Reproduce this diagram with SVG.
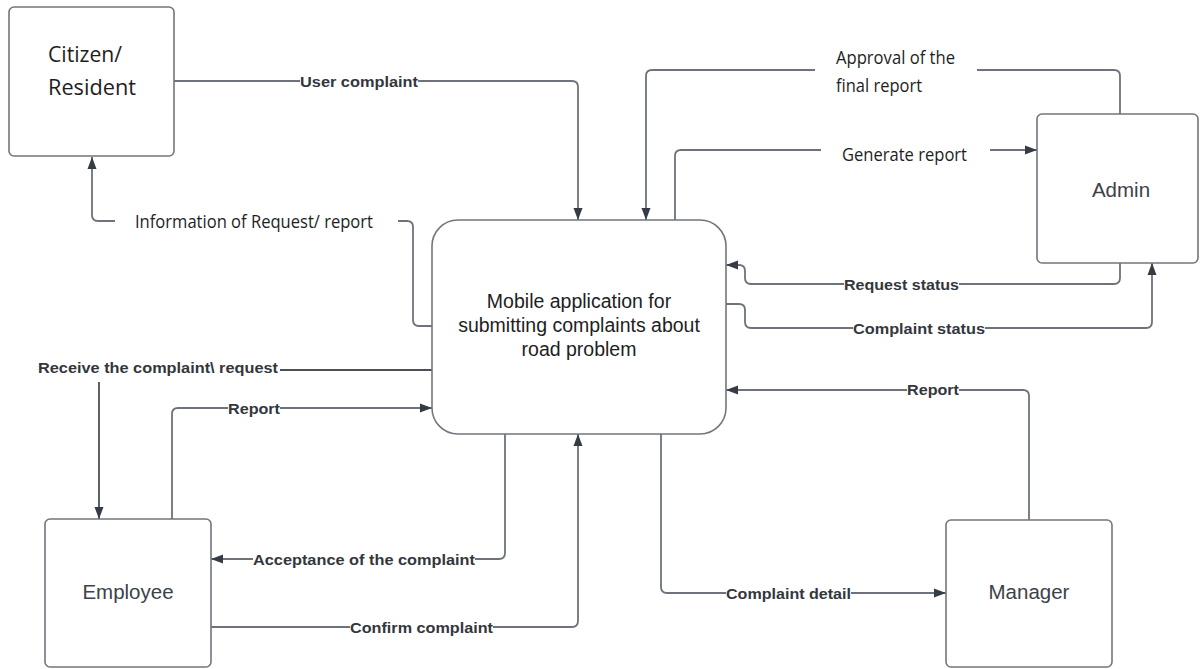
<svg xmlns="http://www.w3.org/2000/svg" width="1200" height="669" viewBox="0 0 1200 669">
<defs>
<style>
.node{fill:#fff;stroke:#72767e;stroke-width:1.6}
.edge{fill:none;stroke:#6e737b;stroke-width:1.8;stroke-linejoin:round}
.bl{font-family:"Liberation Sans",Arial,sans-serif;font-weight:bold;font-size:15.5px;fill:#33373d}
.cl{font-family:"Open Sans","Liberation Sans",sans-serif;font-size:17.5px;fill:#1e1e1e}
.nl{font-family:"Liberation Sans",Arial,sans-serif;font-size:20.5px;fill:#3d4149}
.ml{font-family:"Liberation Sans",Arial,sans-serif;font-size:19.5px;fill:#1e1e1e}
.bg{fill:#fff}
</style>
<marker id="ah" markerWidth="12" markerHeight="12" viewBox="0 0 12 12" refX="12" refY="6" orient="auto" markerUnits="userSpaceOnUse">
<path d="M0,1.5 L12,6 L0,10.5 Z" fill="#363c46"/>
</marker>
</defs>

<g id="connectors">
<!-- User complaint -->
<path class="edge" d="M174,81 H572 Q578,81 578,87 V220" marker-end="url(#ah)"/>
<!-- Information of Request/ report -->
<path class="edge" d="M432,326 H419 Q413,326 413,320 V227 Q413,221 407,221 H398"/>
<path class="edge" d="M115,221 H98 Q92,221 92,215 V157" marker-end="url(#ah)"/>
<!-- Approval of the final report -->
<path class="edge" d="M1120,114 V76 Q1120,70 1114,70 H977"/>
<path class="edge" d="M815,70 H652 Q646,70 646,76 V220" marker-end="url(#ah)"/>
<!-- Generate report -->
<path class="edge" d="M675,220 V156 Q675,150 681,150 H821"/>
<path class="edge" d="M990,150 H1037" marker-end="url(#ah)"/>
<!-- Request status -->
<path class="edge" d="M1120,263 V278 Q1120,284 1114,284 H751 Q745,284 745,278 V271 Q745,265 739,265 H726" marker-end="url(#ah)"/>
<!-- Complaint status -->
<path class="edge" d="M726,304 H739 Q745,304 745,310 V322 Q745,328 751,328 H1146 Q1152,328 1152,322 V263" marker-end="url(#ah)"/>
<!-- Receive the complaint\ request -->
<path class="edge" d="M432,370 H280" style="stroke:#4a4f58"/>
<path class="edge" d="M99,382 V519" marker-end="url(#ah)" style="stroke:#4a4f58"/>
<!-- Report (employee) -->
<path class="edge" d="M172,519 V414 Q172,408 178,408 H432" marker-end="url(#ah)"/>
<!-- Acceptance of the complaint -->
<path class="edge" d="M505,434 V553 Q505,559 499,559 H211" marker-end="url(#ah)"/>
<!-- Confirm complaint -->
<path class="edge" d="M211,627 H572 Q578,627 578,621 V434" marker-end="url(#ah)"/>
<!-- Complaint detail -->
<path class="edge" d="M661,434 V587 Q661,593 667,593 H946" marker-end="url(#ah)"/>
<!-- Report (manager) -->
<path class="edge" d="M1029,520 V396 Q1029,390 1023,390 H726" marker-end="url(#ah)"/>

<!-- labels -->
<g>
<rect class="bg" x="300" y="72" width="118" height="18"/>
<text class="bl" x="300" y="87" textLength="118" lengthAdjust="spacingAndGlyphs">User complaint</text>
<text class="cl" x="135" y="228" textLength="238" lengthAdjust="spacingAndGlyphs">Information of Request/ report</text>
<text class="cl" x="836" y="64" textLength="119" lengthAdjust="spacingAndGlyphs">Approval of the</text>
<text class="cl" x="836" y="92" textLength="86" lengthAdjust="spacingAndGlyphs">final report</text>
<text class="cl" x="842" y="161" textLength="125" lengthAdjust="spacingAndGlyphs">Generate report</text>
<rect class="bg" x="844" y="275" width="115" height="18"/>
<text class="bl" x="844" y="290" textLength="115" lengthAdjust="spacingAndGlyphs">Request status</text>
<rect class="bg" x="853" y="319" width="132" height="18"/>
<text class="bl" x="853" y="334" textLength="132" lengthAdjust="spacingAndGlyphs">Complaint status</text>
<text class="bl" x="38" y="373" textLength="240" lengthAdjust="spacingAndGlyphs">Receive the complaint\ request</text>
<rect class="bg" x="228" y="399" width="52" height="18"/>
<text class="bl" x="228" y="414" textLength="52" lengthAdjust="spacingAndGlyphs">Report</text>
<rect class="bg" x="907" y="381" width="52" height="18"/>
<text class="bl" x="907" y="395" textLength="52" lengthAdjust="spacingAndGlyphs">Report</text>
<rect class="bg" x="253" y="550" width="222" height="18"/>
<text class="bl" x="253" y="565" textLength="222" lengthAdjust="spacingAndGlyphs">Acceptance of the complaint</text>
<rect class="bg" x="350" y="618" width="143" height="18"/>
<text class="bl" x="350" y="633" textLength="143" lengthAdjust="spacingAndGlyphs">Confirm complaint</text>
<rect class="bg" x="726" y="584" width="125" height="18"/>
<text class="bl" x="726" y="599" textLength="125" lengthAdjust="spacingAndGlyphs">Complaint detail</text>
</g>
</g>

<g id="citizen">
<rect class="node" x="9" y="7" width="165" height="149" rx="5"/>
<text class="cl" x="48" y="62" style="font-size:21px" textLength="74" lengthAdjust="spacingAndGlyphs">Citizen/</text>
<text class="cl" x="48" y="95" style="font-size:21px" textLength="88" lengthAdjust="spacingAndGlyphs">Resident</text>
</g>

<g id="app">
<rect class="node" x="432" y="220" width="294" height="214" rx="26"/>
<text class="ml" x="579" y="308" text-anchor="middle">Mobile application for</text>
<text class="ml" x="579" y="332" text-anchor="middle">submitting complaints about</text>
<text class="ml" x="579" y="356" text-anchor="middle">road problem</text>
</g>

<g id="admin">
<rect class="node" x="1037" y="114" width="161" height="149" rx="5"/>
<text class="nl" x="1121" y="197" text-anchor="middle">Admin</text>
</g>

<g id="employee">
<rect class="node" x="45" y="519" width="166" height="148" rx="5"/>
<text class="nl" x="128" y="599" text-anchor="middle">Employee</text>
</g>

<g id="manager">
<rect class="node" x="946" y="520" width="166" height="147" rx="5"/>
<text class="nl" x="1029" y="599" text-anchor="middle">Manager</text>
</g>
</svg>
